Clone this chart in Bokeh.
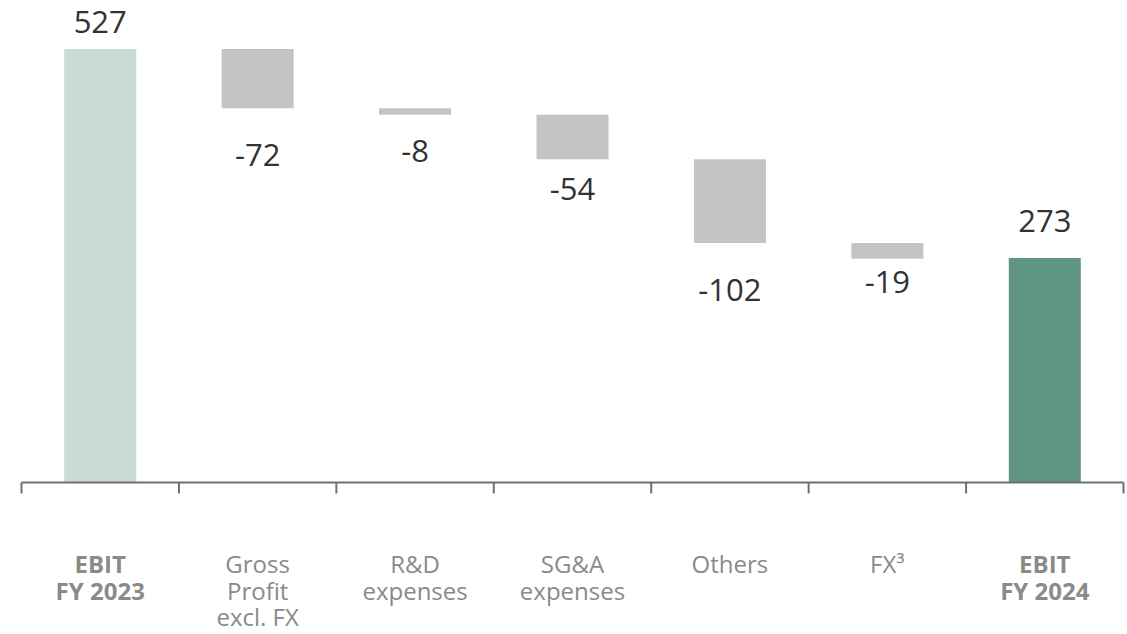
from bokeh.plotting import figure
from bokeh.models import Range1d, ColumnDataSource
from bokeh.core.properties import value
from bokeh.embed import file_html
from bokeh.resources import INLINE

# ---- data ----
categories = ["EBIT\nFY 2023", "Gross\nProfit\nexcl. FX", "R&D\nexpenses",
              "SG&A\nexpenses", "Others", "FX³", "EBIT\nFY 2024"]
bold_flags = [True, False, False, False, False, False, True]
start_value = 527
deltas = [-72, -8, -54, -102, -19]
end_value = 273
value_labels = ["527", "-72", "-8", "-54", "-102", "-19", "273"]

# ---- styling / layout ----
W, H = 1127, 634
base_px = 482            # zero line, pixels from top
px_per_unit = 0.8226     # vertical scale
cat_px = 157.43          # width of one category slot
left_px = 21             # left end of axis line
bar_px = 72
label_gap_px = [27, 47, 36, 30, 47, 23, 37]
FONT = "Open Sans"
C_START, C_DELTA, C_END = "#C9DCD6", "#C4C4C4", "#5F9682"

# ---- waterfall geometry ----
n = len(categories)
xs = list(range(n))
bottoms, tops, colors = [0], [start_value], [C_START]
run = start_value
for d in deltas:
    nxt = run + d
    bottoms.append(min(run, nxt))
    tops.append(max(run, nxt))
    colors.append(C_DELTA)
    run = nxt
bottoms.append(0)
tops.append(end_value)
colors.append(C_END)

x_start = -0.5 - left_px / cat_px
p = figure(width=W, height=H, output_backend="svg", toolbar_location=None,
           x_range=Range1d(x_start, x_start + W / cat_px),
           y_range=Range1d(-(H - base_px) / px_per_unit, base_px / px_per_unit),
           min_border=0, outline_line_color=None)
p.axis.visible = False
p.grid.visible = False
p.background_fill_color = "white"
p.border_fill_color = "white"

p.vbar(x=xs, bottom=bottoms, top=tops, width=bar_px / cat_px,
       fill_color=colors, line_color=None)

# value labels
all_vals = [start_value] + deltas + [end_value]
lab_y, lab_off = [], []
for i, v in enumerate(all_vals):
    if v >= 0:
        lab_y.append(tops[i]); lab_off.append(-label_gap_px[i])
    else:
        lab_y.append(bottoms[i]); lab_off.append(label_gap_px[i])
p.text(x=xs, y=lab_y, text=value_labels, y_offset=lab_off,
       text_align="center", text_baseline="alphabetic",
       text_font=value(FONT), text_font_size="31px", text_color="#333333")

# axis line and ticks
bounds = [i - 0.5 for i in range(n + 1)]
p.segment(x0=[bounds[0]], y0=[0], x1=[bounds[-1]], y1=[0],
          line_color="#707070", line_width=2)
tick_len = 11 / px_per_unit
p.segment(x0=bounds, y0=[0] * len(bounds), x1=bounds, y1=[-tick_len] * len(bounds),
          line_color="#707070", line_width=2)

# category labels (one glyph per line)
cx, cy, ct, coff, cstyle = [], [], [], [], []
for i, c in enumerate(categories):
    for j, line in enumerate(c.split("\n")):
        cx.append(i); cy.append(0); ct.append(line)
        coff.append(81 + j * 26.5)
        cstyle.append("bold" if bold_flags[i] else "normal")
src = ColumnDataSource(dict(x=cx, y=cy, t=ct, off=coff, st=cstyle))
p.text(x="x", y="y", text="t", y_offset="off", text_font_style="st", source=src,
       text_align="center", text_baseline="alphabetic",
       text_font=value(FONT), text_font_size="24px", text_color="#8A8A8A")

open("out.html", "w").write(file_html(p, INLINE))
